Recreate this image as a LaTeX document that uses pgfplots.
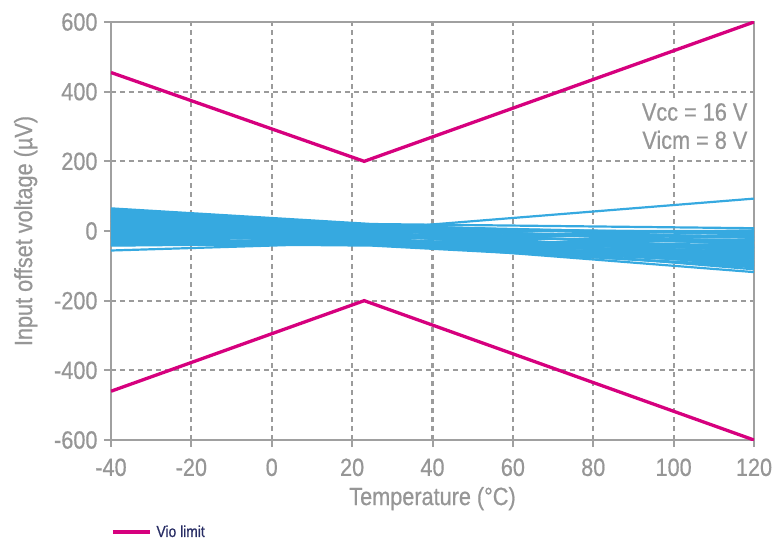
\documentclass[border=0pt]{standalone}
\usepackage{pgfplots}
\pgfplotsset{compat=1.18}
\usepackage{fontspec}
\setmainfont{Liberation Sans}[FakeStretch=0.87, FakeBold=0.6]
\definecolor{axgray}{RGB}{160,160,160}
\definecolor{gridgray}{RGB}{155,155,155}
\definecolor{lblgray}{RGB}{150,150,150}
\definecolor{vioblue}{RGB}{54,169,224}
\definecolor{viomag}{RGB}{214,0,126}
\definecolor{navy}{RGB}{40,45,100}
\pgfplotsset{drift/.style={vioblue, line width=2.2bp, forget plot}}
\begin{document}
\begin{tikzpicture}
\begin{axis}[
  width=643bp, height=418bp, scale only axis,
  xmin=-40, xmax=120, ymin=-600, ymax=600,
  xtick={-40,-20,...,120}, ytick={-600,-400,...,600},
  /pgf/number format/assume math mode=true,
  axis line style={axgray, line width=2bp},
  tick style={axgray, line width=2bp},
  tick align=outside, major tick length=7bp,
  xtick pos=bottom, ytick pos=left,
  grid=major,
  major grid style={gridgray, line width=2.2bp, dash pattern=on 5bp off 4bp},
  ticklabel style={font=\fontsize{25}{30}\selectfont, text=lblgray},
  xticklabel style={yshift=-8bp},
  yticklabel style={xshift=-3bp},
  label style={font=\fontsize{25}{30}\selectfont, text=lblgray},
  xlabel shift=4bp, ylabel shift=10bp,
  xlabel={Temperature (°C)},
  ylabel={Input offset voltage (µV)},
  legend style={at={(0,-0.22)}, anchor=west, draw=none, fill=none,
    font=\fontsize{16}{18}\selectfont, text=navy, inner sep=0pt,
    nodes={inner xsep=5bp}},
  legend image code/.code={\draw[#1] (0bp,0bp) -- (37bp,0bp);},
  clip=true,
]
% measured drift lines
\addplot[drift] coordinates {(-40,65) (25,20) (120,8)};
\addplot[drift] coordinates {(-40,62) (25,18) (120,-20)};
\addplot[drift] coordinates {(-40,60) (25,15) (120,-40)};
\addplot[drift] coordinates {(-40,58) (25,12) (120,-60)};
\addplot[drift] coordinates {(-40,55) (25,10) (120,-5)};
\addplot[drift] coordinates {(-40,52) (25,8) (120,-30)};
\addplot[drift] coordinates {(-40,50) (25,5) (120,-75)};
\addplot[drift] coordinates {(-40,48) (25,3) (120,-50)};
\addplot[drift] coordinates {(-40,45) (25,0) (120,-90)};
\addplot[drift] coordinates {(-40,42) (25,-2) (120,-15)};
\addplot[drift] coordinates {(-40,40) (25,-5) (120,-65)};
\addplot[drift] coordinates {(-40,38) (25,-8) (120,-100)};
\addplot[drift] coordinates {(-40,35) (25,-10) (120,-35)};
\addplot[drift] coordinates {(-40,32) (25,-12) (120,-80)};
\addplot[drift] coordinates {(-40,30) (25,-15) (120,-55)};
\addplot[drift] coordinates {(-40,28) (25,-18) (120,-110)};
\addplot[drift] coordinates {(-40,25) (25,-20) (120,-25)};
\addplot[drift] coordinates {(-40,22) (25,-22) (120,-70)};
\addplot[drift] coordinates {(-40,20) (25,-25) (120,-95)};
\addplot[drift] coordinates {(-40,18) (25,-28) (120,-45)};
\addplot[drift] coordinates {(-40,15) (25,-30) (120,-85)};
\addplot[drift] coordinates {(-40,12) (25,-32) (120,-118)};
\addplot[drift] coordinates {(-40,10) (25,-34) (120,-60)};
\addplot[drift] coordinates {(-40,8) (25,-36) (120,-104)};
\addplot[drift] coordinates {(-40,5) (25,-38) (120,-92)};
\addplot[drift] coordinates {(-40,2) (25,-40) (120,-75)};
\addplot[drift] coordinates {(-40,0) (25,-36) (120,-50)};
\addplot[drift] coordinates {(-40,-5) (25,-33) (120,-65)};
\addplot[drift] coordinates {(-40,-10) (25,-30) (120,-40)};
\addplot[drift] coordinates {(-40,-15) (25,-28) (120,-80)};
\addplot[drift] coordinates {(-40,-20) (25,-35) (120,-28)};
\addplot[drift] coordinates {(-40,-25) (25,-38) (120,-88)};
\addplot[drift] coordinates {(-40,-30) (25,-40) (120,-58)};
\addplot[drift] coordinates {(-40,-35) (25,-42) (120,-100)};
\addplot[drift] coordinates {(-40,-40) (25,-39) (120,-70)};
\addplot[drift] coordinates {(-40,-42) (25,-35) (120,-45)};
\addplot[drift] coordinates {(-40,-56) (25,-33) (120,-48)};
\addplot[drift] coordinates {(-40,45) (25,5) (120,93)};
\addplot[drift] coordinates {(-40,30) (25,0) (120,0)};
\addplot[drift] coordinates {(-40,55) (25,15) (120,-10)};
\addplot[drift] coordinates {(-40,0) (25,-10) (120,-18)};
\addplot[drift] coordinates {(-40,-20) (25,-20) (120,2)};
% limits
\addplot[viomag, line width=3.3bp] coordinates {(-40,455) (23,200) (120,600)};
\addlegendentry{Vio limit}
\addplot[viomag, line width=3.3bp, forget plot] coordinates {(-40,-460) (23,-200) (120,-600)};
\fill[white] (axis cs:88,375) rectangle (axis cs:119,228);
\node[anchor=base east, font=\fontsize{25}{30}\selectfont, text=lblgray, inner sep=0pt] at (axis cs:118.4,317) {Vcc = 16 V};
\node[anchor=base east, font=\fontsize{25}{30}\selectfont, text=lblgray, inner sep=0pt] at (axis cs:118.4,236) {Vicm = 8 V};
\end{axis}
\pgfresetboundingbox
\path[use as bounding box] ([shift={(-111bp,-102bp)}]current axis.south west) rectangle ([shift={(28bp,22bp)}]current axis.north east);
\end{tikzpicture}
\end{document}
